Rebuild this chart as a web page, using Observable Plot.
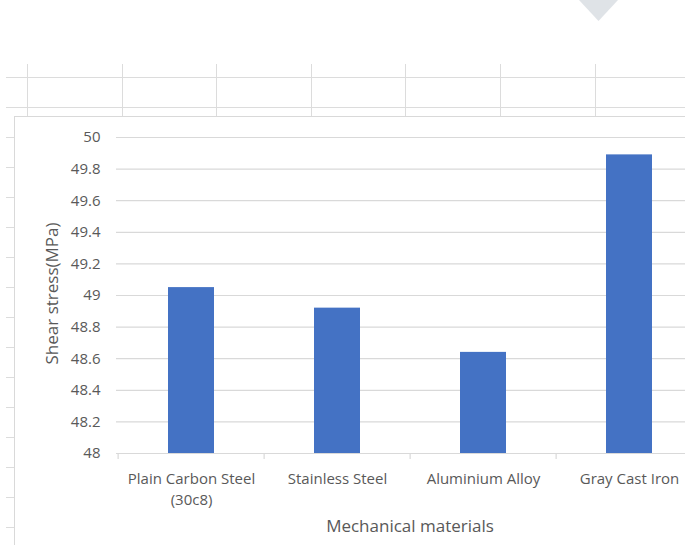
<!DOCTYPE html>
<html><head><meta charset="utf-8">
<script src="https://cdn.jsdelivr.net/npm/d3@7"></script>
<script src="https://cdn.jsdelivr.net/npm/@observablehq/plot@0.6"></script>
<style>
html,body{margin:0;padding:0;background:#fff;overflow:hidden}
#wrap{position:relative;width:685px;height:545px;overflow:hidden}
#bg{position:absolute;left:0;top:0}
#chart{position:absolute;left:0;top:0}
</style></head><body>
<div id="wrap"><svg id="bg" width="685" height="545"></svg><div id="chart"></div></div>
<script>
// Data
const categories = ["Plain Carbon Steel (30c8)", "Stainless Steel", "Aluminium Alloy", "Gray Cast Iron"];
const shearStress = [49.05, 48.92, 48.64, 49.89];
const yTicks = [48, 48.2, 48.4, 48.6, 48.8, 49, 49.2, 49.4, 49.6, 49.8, 50];
const xTitle = "Mechanical materials";
const yTitle = "Shear stress(MPa)";

const data = categories.map((c, i) => ({category: c, value: shearStress[i]}));

// Spreadsheet-like background decoration
const bg = d3.select("#bg");
const gridColor = "#dcdcdc";
[77, 107].forEach(y => bg.append("line").attr("x1", 6).attr("x2", 685).attr("y1", y + 0.5).attr("y2", y + 0.5).attr("stroke", gridColor));
d3.range(137, 545, 30).forEach(y => bg.append("line").attr("x1", 6).attr("x2", 14).attr("y1", y + 0.5).attr("y2", y + 0.5).attr("stroke", gridColor));
d3.range(0, 7).forEach(k => { const x = Math.round(27 + 94.6 * k) + 0.5; bg.append("line").attr("x1", x).attr("x2", x).attr("y1", 64).attr("y2", 116).attr("stroke", gridColor); });
bg.append("rect").attr("x", 14.5).attr("y", 116.5).attr("width", 700).attr("height", 440).attr("fill", "#fff").attr("stroke", "#d9d9d9");
bg.append("polygon").attr("points", "579,0 618,0 598.5,21").attr("fill", "#dfe3e7");

const W = 703;
const marginLeft = 116, marginRight = 0;
const step = (W - marginLeft - marginRight) / categories.length;

const chart = Plot.plot({
  width: W,
  height: 545,
  marginLeft, marginRight,
  marginTop: 137,
  marginBottom: 92,
  style: {background: "transparent", maxWidth: "none", fontFamily: "'Open Sans', sans-serif", fontSize: "15px", color: "#595959", overflow: "visible"},
  x: {domain: categories, paddingInner: 0.687, paddingOuter: 0.3435, label: null},
  y: {domain: [48, 50], label: null},
  marks: [
    Plot.ruleY(yTicks, {y: d => d, stroke: "#d9d9d9", strokeWidth: 1.2}),
    Plot.ruleX(categories, {x: d => d, dx: -step / 2, y1: 48, y2: 48, insetBottom: -6, stroke: "#d9d9d9", strokeWidth: 1.2}),
    Plot.barY(data, {x: "category", y1: 48, y2: "value", fill: "#4472c4"}),
    Plot.axisY({ticks: yTicks, tickSize: 0, tickPadding: 16, tickFormat: d => String(+d.toFixed(1)), fontSize: 15, fill: "#595959", label: null}),
    Plot.axisX({tickSize: 0, tickPadding: 16, tickFormat: d => d.replace(" (", "\n("), lineHeight: 1.4, fontSize: 15, fill: "#595959", label: null}),
    Plot.text([xTitle], {frameAnchor: "bottom", dy: 78, fontSize: 17, fill: "#595959", text: d => d}),
    Plot.text([yTitle], {frameAnchor: "left", textAnchor: "middle", dx: -64, dy: -2, rotate: -90, fontSize: 17, fill: "#595959", text: d => d})
  ]
});
document.getElementById("chart").appendChild(chart);
</script>
</body></html>
